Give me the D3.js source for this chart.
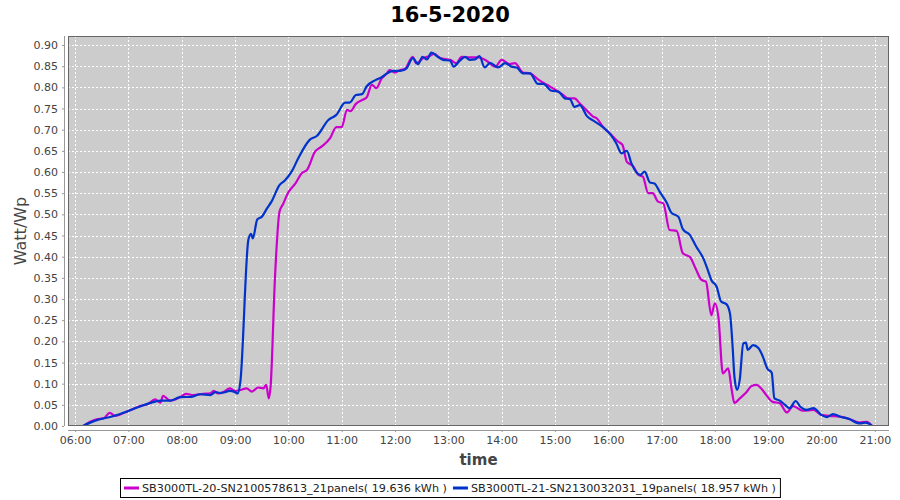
<!DOCTYPE html>
<html>
<head>
<meta charset="utf-8">
<script src="https://cdn.jsdelivr.net/npm/d3@7"></script>
<style>
  html, body { margin: 0; padding: 0; background: #ffffff; }
  svg { display: block; font-family: "DejaVu Sans", sans-serif; }
</style>
</head>
<body>
<svg id="chart" width="900" height="500"></svg>
<script>
// ---------------- DATA ----------------
const chartTitle = "16-5-2020";
const seriesNames = ["SB3000TL-20-SN2100578613_21panels", "SB3000TL-21-SN2130032031_19panels"];
const seriesEnergy = ["19.636", "18.957"];
const seriesColors = ["#cc00cc", "#0033cc"];

const magentaTimes = ["06:09","06:17","06:24","06:32","06:39","06:45","06:54","07:04","07:13","07:22","07:30","07:36","07:39","07:47","07:58","08:05","08:13","08:24","08:32","08:36","08:41","08:47","08:54","09:00","09:06","09:13","09:19","09:26","09:32","09:35","09:38","09:40","09:45","09:50","09:54","10:00","10:08","10:15","10:21","10:30","10:38","10:47","10:54","11:00","11:06","11:10","11:16","11:23","11:28","11:34","11:39","11:45","11:51","11:54","12:00","12:06","12:11","12:20","12:24","12:32","12:39","12:44","12:51","13:02","13:09","13:15","13:24","13:34","13:43","13:53","14:00","14:09","14:15","14:24","14:32","14:41","14:51","15:00","15:08","15:15","15:22","15:28","15:36","15:43","15:47","15:54","16:02","16:11","16:16","16:21","16:28","16:34","16:39","16:45","16:50","16:56","17:02","17:09","17:17","17:24","17:32","17:39","17:45","17:50","17:56","18:00","18:04","18:09","18:15","18:19","18:22","18:28","18:36","18:41","18:47","18:52","18:58","19:05","19:13","19:21","19:28","19:39","19:51","20:00","20:09","20:21","20:32","20:43","20:51","20:57"];
const magentaValues = [0.000,0.010,0.016,0.018,0.031,0.024,0.030,0.039,0.047,0.052,0.063,0.055,0.071,0.060,0.068,0.076,0.073,0.076,0.077,0.083,0.077,0.080,0.089,0.083,0.085,0.089,0.081,0.091,0.089,0.097,0.065,0.093,0.353,0.506,0.524,0.552,0.573,0.597,0.605,0.648,0.661,0.680,0.706,0.706,0.747,0.744,0.761,0.770,0.776,0.806,0.798,0.821,0.833,0.841,0.835,0.841,0.843,0.872,0.857,0.869,0.874,0.879,0.869,0.865,0.857,0.872,0.871,0.871,0.863,0.849,0.865,0.855,0.857,0.835,0.833,0.819,0.806,0.795,0.784,0.774,0.774,0.762,0.745,0.731,0.727,0.707,0.691,0.672,0.664,0.624,0.614,0.593,0.589,0.550,0.550,0.530,0.526,0.463,0.461,0.408,0.399,0.369,0.345,0.341,0.262,0.290,0.258,0.124,0.136,0.085,0.054,0.065,0.081,0.094,0.097,0.089,0.073,0.057,0.054,0.032,0.047,0.036,0.038,0.026,0.024,0.022,0.016,0.008,0.010,0.000];

const blueTimes = ["06:09","06:17","06:28","06:37","06:47","06:58","07:13","07:24","07:36","07:47","07:58","08:11","08:21","08:32","08:38","08:43","08:49","08:54","09:00","09:03","09:06","09:15","09:18","09:20","09:25","09:30","09:36","09:41","09:50","09:56","10:04","10:11","10:24","10:32","10:45","10:54","11:04","11:09","11:16","11:23","11:28","11:38","11:45","11:51","11:58","12:06","12:13","12:20","12:26","12:31","12:36","12:41","12:49","12:54","13:02","13:06","13:13","13:19","13:24","13:30","13:35","13:41","13:47","13:56","14:04","14:11","14:17","14:24","14:32","14:41","14:47","14:56","15:04","15:11","15:17","15:22","15:28","15:36","15:45","15:54","16:02","16:09","16:15","16:21","16:26","16:36","16:41","16:47","16:52","16:58","17:06","17:11","17:19","17:24","17:32","17:39","17:47","17:52","17:56","18:02","18:07","18:13","18:17","18:20","18:22","18:25","18:28","18:32","18:35","18:37","18:43","18:49","18:54","18:59","19:04","19:07","19:13","19:19","19:24","19:31","19:36","19:43","19:51","20:00","20:06","20:13","20:21","20:32","20:39","20:45","20:49","20:53","20:57"];
const blueValues = [0.000,0.008,0.016,0.020,0.026,0.034,0.046,0.054,0.060,0.060,0.068,0.069,0.075,0.073,0.080,0.078,0.080,0.083,0.080,0.077,0.105,0.440,0.454,0.443,0.488,0.494,0.514,0.530,0.569,0.580,0.602,0.632,0.676,0.685,0.723,0.735,0.764,0.764,0.782,0.784,0.802,0.817,0.824,0.833,0.839,0.839,0.845,0.869,0.855,0.872,0.866,0.882,0.871,0.865,0.863,0.849,0.863,0.872,0.865,0.866,0.874,0.847,0.858,0.847,0.857,0.849,0.847,0.833,0.833,0.808,0.808,0.792,0.790,0.774,0.772,0.754,0.758,0.732,0.719,0.706,0.690,0.668,0.644,0.650,0.621,0.593,0.601,0.575,0.573,0.553,0.527,0.504,0.494,0.465,0.451,0.424,0.396,0.369,0.345,0.329,0.294,0.288,0.266,0.187,0.117,0.085,0.109,0.195,0.197,0.180,0.191,0.184,0.164,0.136,0.126,0.065,0.060,0.050,0.042,0.059,0.046,0.038,0.042,0.026,0.021,0.028,0.022,0.016,0.008,0.006,0.008,0.006,0.000];

const xTickLabels = ["06:00","07:00","08:00","09:00","10:00","11:00","12:00","13:00","14:00","15:00","16:00","17:00","18:00","19:00","20:00","21:00"];
const yTickValues = [0.00,0.05,0.10,0.15,0.20,0.25,0.30,0.35,0.40,0.45,0.50,0.55,0.60,0.65,0.70,0.75,0.80,0.85,0.90];
const xDomainLabels = ["05:52","21:16"];
const yDomainMax = 0.9213;
const xAxisTitle = "time";
const yAxisTitle = "Watt/Wp";

// ---------------- CHART ----------------
const parse = d3.timeParse("%H:%M");
const fmt = d3.timeFormat("%H:%M");
const svg = d3.select("#chart");

const plot = { left: 68, right: 889, top: 36, bottom: 426 };

const x = d3.scaleTime()
  .domain(xDomainLabels.map(parse))
  .range([plot.left, plot.right]);
const y = d3.scaleLinear()
  .domain([0, yDomainMax])
  .range([plot.bottom, plot.top]);

// Title
svg.append("text")
  .attr("x", 450).attr("y", 22)
  .attr("text-anchor", "middle")
  .attr("font-size", 21).attr("font-weight", "bold")
  .attr("fill", "#000")
  .text(chartTitle);

// Plot background
svg.append("rect")
  .attr("x", plot.left).attr("y", plot.top)
  .attr("width", plot.right - plot.left).attr("height", plot.bottom - plot.top)
  .attr("fill", "#cccccc");

// Gridlines
const xTicks = xTickLabels.map(parse);
const grid = svg.append("g").attr("stroke", "#ffffff").attr("stroke-width", 1)
  .attr("stroke-dasharray", "2,2").attr("shape-rendering", "crispEdges");
grid.selectAll("line.v").data(xTicks).join("line").attr("class", "v")
  .attr("x1", d => Math.round(x(d)) + 0.5).attr("x2", d => Math.round(x(d)) + 0.5)
  .attr("y1", plot.top).attr("y2", plot.bottom);
grid.selectAll("line.h").data(yTickValues).join("line").attr("class", "h")
  .attr("y1", d => Math.round(y(d)) + 0.5).attr("y2", d => Math.round(y(d)) + 0.5)
  .attr("x1", plot.left).attr("x2", plot.right);

// Series
const series = [
  { times: magentaTimes, values: magentaValues, color: seriesColors[0] },
  { times: blueTimes, values: blueValues, color: seriesColors[1] }
];
const line = d3.line()
  .x(d => x(d.t)).y(d => y(d.v))
  .curve(d3.curveMonotoneX);
const clip = svg.append("clipPath").attr("id", "clip").append("rect")
  .attr("x", plot.left).attr("y", plot.top)
  .attr("width", plot.right - plot.left).attr("height", plot.bottom - plot.top);
const lines = svg.append("g").attr("clip-path", "url(#clip)");
series.forEach(s => {
  const pts = s.times.map((t, i) => ({ t: parse(t), v: s.values[i] }));
  lines.append("path").datum(pts)
    .attr("fill", "none").attr("stroke", s.color)
    .attr("stroke-width", 2.2).attr("stroke-linejoin", "round")
    .attr("d", line);
});

// Plot outline
svg.append("rect")
  .attr("x", plot.left + 0.5).attr("y", plot.top + 0.5)
  .attr("width", plot.right - plot.left - 1).attr("height", plot.bottom - plot.top - 1)
  .attr("fill", "none").attr("stroke", "#666666").attr("stroke-width", 1);

// Y axis
const yAxis = d3.axisLeft(y).tickValues(yTickValues).tickFormat(d3.format(".2f"))
  .tickSize(2).tickPadding(4);
const gy = svg.append("g").attr("transform", "translate(64,0)").call(yAxis);
gy.select(".domain").attr("stroke", "#999").attr("d", `M0.5,${plot.top}V${plot.bottom}`);
gy.selectAll(".tick line").attr("stroke", "#999");
gy.selectAll(".tick text").attr("font-size", 11).attr("fill", "#444")
  .attr("font-family", "DejaVu Sans, sans-serif");

// X axis
const xAxis = d3.axisBottom(x).tickValues(xTicks).tickFormat(fmt)
  .tickSize(2).tickPadding(4);
const gx = svg.append("g").attr("transform", "translate(0,430)").call(xAxis);
gx.select(".domain").attr("stroke", "#999").attr("d", `M${plot.left},0.5H${plot.right}`);
gx.selectAll(".tick line").attr("stroke", "#999");
gx.selectAll(".tick text").attr("font-size", 11).attr("fill", "#444")
  .attr("font-family", "DejaVu Sans, sans-serif");

// Axis titles
svg.append("text")
  .attr("x", (plot.left + plot.right) / 2).attr("y", 465)
  .attr("text-anchor", "middle").attr("font-size", 15).attr("font-weight", "bold")
  .attr("fill", "#444").text(xAxisTitle);
svg.append("text")
  .attr("transform", `translate(26,${(plot.top + plot.bottom) / 2}) rotate(-90)`)
  .attr("text-anchor", "middle").attr("font-size", 16)
  .attr("fill", "#444").text(yAxisTitle);

// Legend
const legend = svg.append("g");
const legendBox = legend.append("rect")
  .attr("fill", "#fff").attr("stroke", "#000").attr("stroke-width", 1);
let cx = 124;
const legendY = 488;
seriesNames.forEach((name, i) => {
  legend.append("line")
    .attr("x1", cx).attr("x2", cx + 15).attr("y1", legendY).attr("y2", legendY)
    .attr("stroke", seriesColors[i]).attr("stroke-width", 3);
  const t = legend.append("text")
    .attr("x", cx + 18).attr("y", legendY + 4)
    .attr("font-size", 11.2).attr("fill", "#222")
    .text(`${name}( ${seriesEnergy[i]} kWh )`);
  cx += 18 + t.node().getComputedTextLength() + 6;
});
legendBox.attr("x", 120.5).attr("y", 478.5).attr("width", cx - 120 - 2).attr("height", 19);
</script>
</body>
</html>
